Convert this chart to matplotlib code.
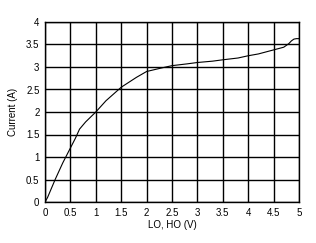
import matplotlib
matplotlib.use("Agg")
import matplotlib.pyplot as plt

plt.rcParams['font.family'] = ['Liberation Sans', 'DejaVu Sans']

# curve
volts = [0, 0.05, 0.2, 0.35, 0.5, 0.6, 0.68, 0.8, 1.0, 1.2, 1.5, 1.8, 2.0, 2.3, 2.5, 2.8,
         3.0, 3.3, 3.5, 3.8, 4.0, 4.2, 4.5, 4.7, 4.8, 4.85, 4.9, 4.95, 5.0]
amps = [0, 0.1, 0.5, 0.87, 1.2, 1.42, 1.62, 1.78, 2.0, 2.25, 2.55, 2.77, 2.9, 2.98, 3.03, 3.07,
        3.1, 3.13, 3.16, 3.2, 3.25, 3.29, 3.38, 3.44, 3.52, 3.58, 3.62, 3.63, 3.63]

xticks = [0, 0.5, 1, 1.5, 2, 2.5, 3, 3.5, 4, 4.5, 5]
xlabels = ['0', '0.5', '1', '1.5', '2', '2.5', '3', '3.5', '4', '4.5', '5']
yticks = [0, 0.5, 1, 1.5, 2, 2.5, 3, 3.5, 4]
ylabels = ['0', '0.5', '1', '1.5', '2', '2.5', '3', '3.5', '4']

fig = plt.figure(figsize=(3.16, 2.43), dpi=100)
ax = fig.add_axes([45/316, 1 - 202/243, 254/316, 180/243])

ax.plot(volts, amps, color='black', lw=0.8)
ax.set_xlim(0, 5)
ax.set_ylim(0, 4)
ax.set_xticks(xticks)
ax.set_xticklabels(xlabels)
ax.set_yticks(yticks)
ax.set_yticklabels(ylabels)
ax.grid(True, color='black', lw=1.0)
ax.tick_params(length=0, labelsize=7, pad=4)
for s in ax.spines.values():
    s.set_linewidth(1.0)
ax.set_xlabel('LO, HO (V)', fontsize=7, labelpad=2)
ax.set_ylabel('Current (A)', fontsize=7, labelpad=6)

fig.savefig('out.png', dpi=100)
